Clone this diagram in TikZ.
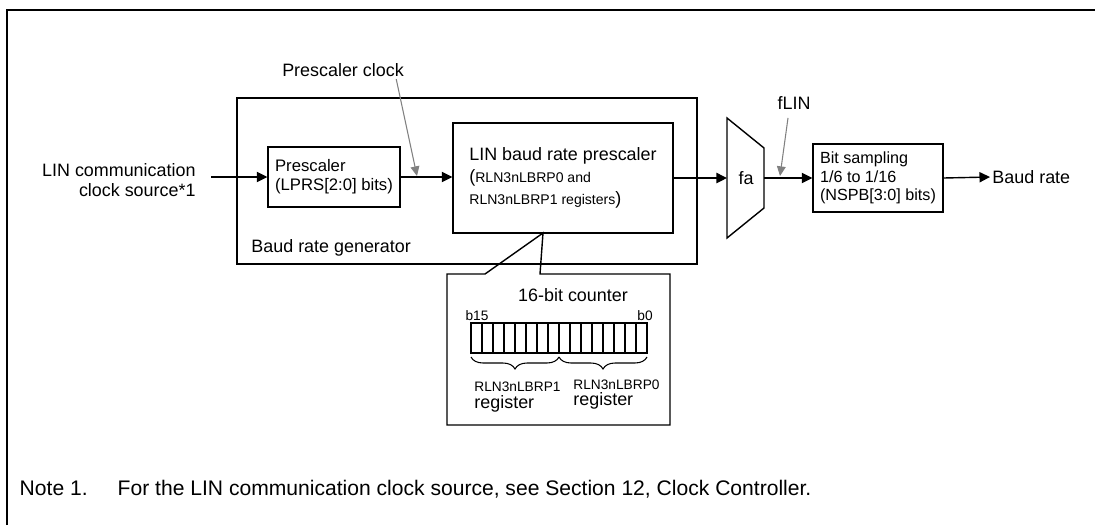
\documentclass[tikz,border=0pt]{standalone}
\usepackage{fontspec}
\setmainfont{Liberation Sans}
\usetikzlibrary{arrows.meta,decorations.pathreplacing}

\begin{document}
\begin{tikzpicture}[x=0.02cm,y=-0.02cm,line width=0.8pt,
  blk/.style={draw,inner sep=1pt,align=left},
  sig/.style={-{Triangle[length=6pt,width=5.8pt]}},
  hint/.style={draw=gray,-{Triangle[length=5.5pt,width=5pt]},line width=0.6pt},
  txt/.style={inner sep=1pt,font=\fontsize{10.2}{12.5}\selectfont},
  sml/.style={inner sep=1pt,font=\fontsize{7.8}{9}\selectfont},
  note/.style={inner sep=0pt,font=\fontsize{12}{14}\selectfont}]
\useasboundingbox (0,0) rectangle (1095,525);
\draw[line width=1.6pt] (7,525)--(7,10)--(1095,10);

% baud rate generator
\node[blk,minimum width=9.2cm,minimum height=3.32cm] (gen) at (467,181) {};
\node[txt,anchor=west] (gentxt) at (249,248) {Baud rate generator};
\node[blk,font=\fontsize{9.5}{11}\selectfont,minimum width=2.64cm,minimum height=1.2cm] (presc) at (334,177) {Prescaler\\(LPRS[2:0] bits)};
\node[blk,font=\fontsize{10.2}{12.5}\selectfont,minimum width=4.4cm,minimum height=2.2cm] (lbrp) at (563,178)
  {LIN baud rate prescaler\\({\fontsize{8}{10}\selectfont RLN3nLBRP0 and}\\{\fontsize{8}{10}\selectfont RLN3nLBRP1 registers})};

% selector and bit sampling
\draw (727,118) -- (764,148) -- (764,208) -- (727,238) -- cycle;
\coordinate (muxin) at (727,178);
\coordinate (muxout) at (764,178);
\node[txt] (fa) at (746,178) {fa};
\node[blk,font=\fontsize{9.2}{10.6}\selectfont,minimum width=2.6cm,minimum height=1.36cm] (bits) at (878,178) {Bit sampling\\1/6 to 1/16\\(NSPB[3:0] bits)};

% in and out
\node[txt,align=right,anchor=east,font=\fontsize{10.2}{11}\selectfont] (src) at (198,180) {LIN communication\\clock source*1};
\coordinate (srcout) at (211,177);
\node[txt,anchor=west] (baud) at (990,177) {Baud rate};
\draw[sig] (srcout) -- (presc);
\draw[sig] (presc.east) -- (presc.east -| lbrp.west);
\draw[sig] (lbrp.east) -- (muxin);
\draw[sig] (muxout) -- (bits.west);
\draw[sig] (bits.east) -- (baud.west);

% clock hints
\node[txt] (pclk) at (343,70) {Prescaler clock};
\coordinate (pclktip) at (417,176);
\draw[hint] ([xshift=-0.2cm]pclk.south east) -- (pclktip);
\node[txt] (flin) at (794,103) {fLIN};
\coordinate (flintip) at (780,176);
\draw[hint] ([xshift=-0.12cm,yshift=-0.12cm]flin.south) -- (flintip);

% 16-bit counter callout
\coordinate (tip) at (543,233);
\draw (485,274) -- (447,274) -- (447,425) -- (670,425) -- (670,274) -- (540,274) -- (tip) -- cycle;
\node[txt] (ctr) at (573,295) {16-bit counter};
\node[sml] (msb) at (477,316) {b15};
\node[sml] (lsb) at (645,316) {b0};
\foreach \i in {0,...,15} \draw[line width=0.6pt] (471+11*\i,323) rectangle ++(11,30);
\draw[line width=0.6pt,decorate,decoration={brace,mirror,amplitude=0.24cm}] (471,357) -- (559,357);
\draw[line width=0.6pt,decorate,decoration={brace,mirror,amplitude=0.24cm}] (559,357) -- (647,357);
\node[sml,anchor=west] (hiname) at (472,387) {RLN3nLBRP1};
\node[txt,anchor=west] (hireg) at (472,404) {register};
\node[sml,anchor=west] (loname) at (571,385) {RLN3nLBRP0};
\node[txt,anchor=west] (loreg) at (571,401) {register};

% note
\node[note,anchor=base west] (notenum) at (19,495) {Note 1.};
\node[note,anchor=base west] (notetxt) at (117,495) {For the LIN communication clock source, see Section 12, Clock Controller.};
\end{tikzpicture}
\end{document}
